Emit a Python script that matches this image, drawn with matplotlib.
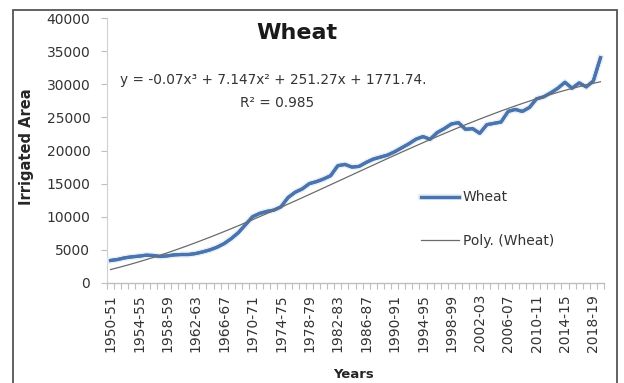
import matplotlib
matplotlib.use("Agg")
import matplotlib.pyplot as plt
import matplotlib.patches as patches
import matplotlib.patheffects as pe
import numpy as np

# Irrigated area under wheat, 1950-51 to 2019-20
start_years = list(range(1950, 2020))
categories = [f"{y}-{str(y + 1)[-2:]}" for y in start_years]
wheat = [3400, 3550, 3800, 3950, 4050, 4200, 4150, 4000, 4100, 4250,
         4300, 4300, 4450, 4700, 5000, 5400, 5950, 6700, 7600, 8800,
         10000, 10500, 10800, 11000, 11500, 12900, 13700, 14200, 15000, 15300,
         15700, 16200, 17700, 17900, 17500, 17600, 18200, 18700, 19000, 19300,
         19800, 20400, 21000, 21700, 22100, 21700, 22700, 23300, 24000, 24200,
         23200, 23300, 22600, 23900, 24100, 24300, 25900, 26200, 25900, 26500,
         27800, 28100, 28700, 29400, 30300, 29400, 30200, 29600, 30500, 34000]

# Cubic trend coefficients (highest power first)
poly_coef = [-0.07, 7.147, 251.27, 1771.74]
r_squared = 0.985

y_ticks = [0, 5000, 10000, 15000, 20000, 25000, 30000, 35000, 40000]
label_step = 4

W, H = 624, 383
fig = plt.figure(figsize=(W / 100, H / 100), dpi=100)
fig.patch.set_facecolor("white")

def fx(px):
    return px / W

def fy(py):
    return 1 - py / H

ax = fig.add_axes([fx(107), fy(283), fx(604) - fx(107), fy(18) - fy(283)])

n = len(wheat)
x = np.arange(n)
trend_x = np.arange(1, n + 1)
trend = np.polyval(poly_coef, trend_x)

line_color = "#4a74ad"
ax.plot(x, wheat, color=line_color, lw=2.3, solid_joinstyle="round",
        path_effects=[pe.withStroke(linewidth=4.5, foreground="#e6eef8"), pe.Normal()],
        label="Wheat", zorder=3)
ax.plot(x, trend, color="#6b6b6b", lw=0.9, label="Poly. (Wheat)", zorder=4)

ax.set_xlim(-0.5, n - 0.5)
ax.set_ylim(0, 40000)

ax.set_yticks(y_ticks)
ax.set_yticklabels([str(v) for v in y_ticks])
ax.tick_params(axis="y", direction="out", length=4, width=0.8, color="#bfbfbf",
               pad=8, labelsize=10, labelcolor="#333333")

major = list(range(0, n, label_step))
ax.set_xticks(major)
ax.set_xticklabels([categories[i] for i in major], rotation=90)
ax.set_xticks(np.arange(-0.5, n, 1.0), minor=True)
ax.tick_params(axis="x", which="major", length=0, pad=8, labelsize=10,
               labelcolor="#333333")
ax.tick_params(axis="x", which="minor", direction="out", length=4, width=0.8,
               color="#bfbfbf")

for side in ("top", "right"):
    ax.spines[side].set_visible(False)
ax.spines["left"].set_color("#d0d0d0")
ax.spines["bottom"].set_color("#bfbfbf")
ax.spines["left"].set_linewidth(0.8)
ax.spines["bottom"].set_linewidth(1.0)

fig.text(fx(297), fy(33), "Wheat", ha="center", va="center",
         fontsize=16, fontweight="bold", color="#1a1a1a")
fig.text(fx(273), fy(80),
         "y = -0.07x³ + 7.147x² + 251.27x + 1771.74.",
         ha="center", va="center", fontsize=9.8, color="#333333")
fig.text(fx(277), fy(103), f"R² = {r_squared}", ha="center", va="center",
         fontsize=9.8, color="#333333")

fig.text(fx(27), fy(147), "Irrigated Area", rotation=90, ha="center",
         va="center", fontsize=10.5, fontweight="bold", color="#262626")
fig.text(fx(354), fy(375), "Years", ha="center", va="center",
         fontsize=9.5, fontweight="bold", color="#262626")

leg = fig.legend(loc="center left", bbox_to_anchor=(fx(421), fy(219)),
                 frameon=False, fontsize=10, handlelength=2.7,
                 handletextpad=0.3, labelspacing=2.1, borderpad=0,
                 borderaxespad=0)
for t in leg.get_texts():
    t.set_color("#333333")

frame = patches.Rectangle((fx(13), -0.05), fx(617) - fx(13), fy(10) + 0.05,
                          transform=fig.transFigure, fill=False,
                          edgecolor="#555555", lw=1.3, zorder=10)
fig.patches.append(frame)

fig.savefig("out.png", dpi=100, facecolor="white")
